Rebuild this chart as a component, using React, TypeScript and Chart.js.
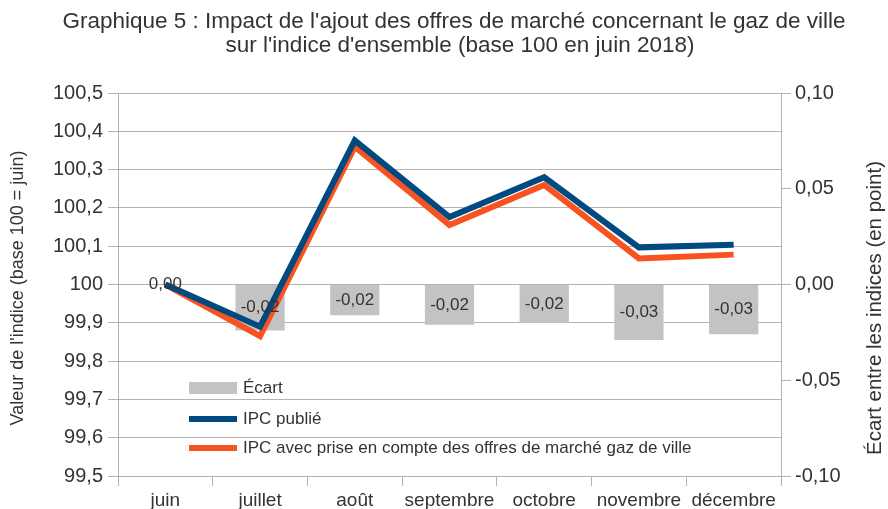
import React, { useEffect, useRef } from "react";
import { Chart, registerables } from "chart.js";

Chart.register(...registerables);

const months = ["juin", "juillet", "août", "septembre", "octobre", "novembre", "décembre"];
const ipcPublie = [100, 99.89, 100.376, 100.176, 100.28, 100.097, 100.104];
const ipcOffres = [100, 99.865, 100.36, 100.155, 100.26, 100.068, 100.078];
const ecart = [0, -0.024, -0.016, -0.021, -0.02, -0.029, -0.026];
const titleLines = [
  "Graphique 5 : Impact de l'ajout des offres de marché concernant le gaz de ville",
  "sur l'indice d'ensemble (base 100 en juin 2018)",
];
const legendLabels = ["Écart", "IPC publié", "IPC avec prise en compte des offres de marché gaz de ville"];
const leftTitle = "Valeur de l'indice (base 100 = juin)";
const rightTitle = "Écart entre les indices (en point)";

const FONT = "'Liberation Sans', Arial, sans-serif";
const TEXT = "#333333";
const GRID = "#b3b3b3";
const BLUE = "#004a80";
const ORANGE = "#f7521f";
const GRAY = "#c3c3c3";

const fmtLeft = (v: number) => {
  const r = Math.round(v * 10) / 10;
  return Number.isInteger(r) ? String(r) : r.toFixed(1).replace(".", ",");
};
const fmtRight = (v: number) => {
  const r = Math.round(v * 100) / 100;
  return (Object.is(r, -0) ? 0 : r).toFixed(2).replace(".", ",");
};

const decorPlugin = {
  id: "decor",
  afterDatasetsDraw(chart: any) {
    const ctx = chart.ctx;
    ctx.save();
    // bar labels
    const meta = chart.getDatasetMeta(0);
    ctx.font = `17px ${FONT}`;
    ctx.fillStyle = TEXT;
    ctx.textAlign = "center";
    ctx.textBaseline = "middle";
    meta.data.forEach((el: any, i: number) => {
      const cy = (el.y + el.base) / 2;
      ctx.fillText(fmtRight(ecart[i]), el.x, cy);
    });
    // legend
    const lx = 189;
    const lw = 48;
    const ys = [388, 419, 448];
    ctx.fillStyle = GRAY;
    ctx.fillRect(lx, ys[0] - 6, lw, 12);
    ctx.lineWidth = 6;
    ctx.lineCap = "butt";
    ctx.strokeStyle = BLUE;
    ctx.beginPath();
    ctx.moveTo(lx, ys[1]);
    ctx.lineTo(lx + lw, ys[1]);
    ctx.stroke();
    ctx.strokeStyle = ORANGE;
    ctx.beginPath();
    ctx.moveTo(lx, ys[2]);
    ctx.lineTo(lx + lw, ys[2]);
    ctx.stroke();
    ctx.fillStyle = TEXT;
    ctx.font = `17px ${FONT}`;
    ctx.textAlign = "left";
    legendLabels.forEach((t, i) => ctx.fillText(t, lx + lw + 6, ys[i]));
    // title
    ctx.font = `22.5px ${FONT}`;
    ctx.textAlign = "center";
    ctx.fillText(titleLines[0], 454, 22);
    ctx.fillText(titleLines[1], 460, 46);
    // axis titles
    ctx.font = `18px ${FONT}`;
    ctx.save();
    ctx.translate(18, 288);
    ctx.rotate(-Math.PI / 2);
    ctx.fillText(leftTitle, 0, 0);
    ctx.restore();
    ctx.font = `20.5px ${FONT}`;
    ctx.save();
    ctx.translate(875, 308);
    ctx.rotate(-Math.PI / 2);
    ctx.fillText(rightTitle, 0, 0);
    ctx.restore();
    ctx.restore();
  },
};

export default function App() {
  const ref = useRef<HTMLCanvasElement | null>(null);
  useEffect(() => {
    if (!ref.current) return;
    const chart = new Chart(ref.current, {
      type: "bar",
      data: {
        labels: months,
        datasets: [
          {
            type: "bar",
            label: legendLabels[0],
            data: ecart,
            backgroundColor: GRAY,
            yAxisID: "y1",
            barPercentage: 0.52,
            categoryPercentage: 1,
            order: 3,
          },
          {
            type: "line",
            label: legendLabels[2],
            data: ipcOffres,
            borderColor: ORANGE,
            backgroundColor: ORANGE,
            borderWidth: 6,
            pointRadius: 0,
            tension: 0,
            yAxisID: "y",
            order: 2,
          },
          {
            type: "line",
            label: legendLabels[1],
            data: ipcPublie,
            borderColor: BLUE,
            backgroundColor: BLUE,
            borderWidth: 6,
            pointRadius: 0,
            tension: 0,
            yAxisID: "y",
            order: 1,
          },
        ] as any,
      },
      options: {
        animation: false,
        responsive: true,
        maintainAspectRatio: false,
        layout: { padding: { top: 93, left: 0, right: 0, bottom: 0 } },
        plugins: { legend: { display: false }, title: { display: false }, tooltip: { enabled: false } },
        scales: {
          x: {
            offset: true,
            grid: { drawOnChartArea: false, drawTicks: true, tickLength: 10, color: GRID, offset: true },
            border: { display: false },
            ticks: { font: { family: FONT, size: 19 }, color: TEXT, padding: 3, maxRotation: 0, autoSkip: false },
            afterFit: (s: any) => { s.height = 33; },
          },
          y: {
            position: "left",
            min: 99.5,
            max: 100.5,
            ticks: { stepSize: 0.1, callback: (v: any) => fmtLeft(Number(v)), font: { family: FONT, size: 20 }, color: TEXT, padding: 5 },
            grid: { color: GRID, tickLength: 10 },
            border: { display: true, color: GRID },
            afterFit: (s: any) => { s.width = 118; },
          },
          y1: {
            position: "right",
            min: -0.1,
            max: 0.1,
            ticks: { stepSize: 0.05, callback: (v: any) => fmtRight(Number(v)), font: { family: FONT, size: 20 }, color: TEXT, padding: 4 },
            grid: { drawOnChartArea: false, color: GRID, tickLength: 10 },
            border: { display: true, color: GRID },
            afterFit: (s: any) => { s.width = 107; },
          },
        },
      } as any,
      plugins: [decorPlugin],
    });
    return () => chart.destroy();
  }, []);
  return (
    <div style={{ position: "fixed", left: 0, top: 0, width: 888, height: 509, background: "#fff" }}>
      <canvas ref={ref} />
    </div>
  );
}
